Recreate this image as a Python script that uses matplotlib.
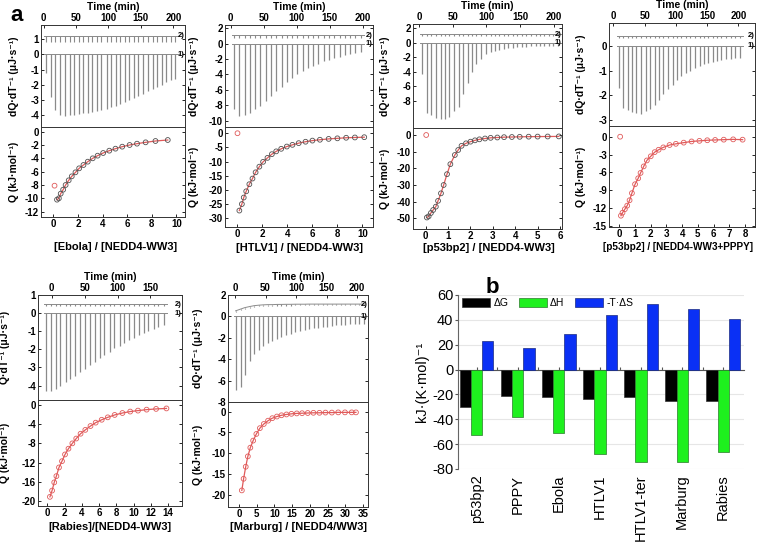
import numpy as np
import matplotlib
matplotlib.use('Agg')
import matplotlib.pyplot as plt
import matplotlib.transforms as mtransforms

plt.rcParams['font.family'] = ['Liberation Sans', 'DejaVu Sans']
plt.rcParams['axes.unicode_minus'] = False

W, H = 758, 545

# ---------------- panel a : ITC data ----------------
# Ebola
ebo_t = [4, 11, 18, 25, 33, 40, 47, 54, 61, 68, 75, 82, 89, 97, 104, 111, 118,
         125, 132, 139, 146, 153, 161, 168, 175, 182, 189, 196, 203]
ebo_peak = [-1.2, -2.8, -3.7, -4.0, -4.05, -4.0, -4.0, -3.95, -3.9, -3.85, -3.8,
            -3.75, -3.65, -3.6, -3.5, -3.4, -3.3, -3.15, -3.0, -2.9, -2.75, -2.6,
            -2.45, -2.3, -2.15, -2.0, -1.85, -1.7, -1.6]
ebo_ref, ebo_ref_dip = 1.25, 0.45
ebo_ratio = [0.1, 0.3, 0.45, 0.6, 0.8, 1.0, 1.25, 1.5, 1.8, 2.1, 2.45, 2.8, 3.2,
             3.6, 4.05, 4.55, 5.05, 5.6, 6.2, 6.8, 7.5, 8.3, 9.3]
ebo_q = [-8.1, -10.2, -10.0, -9.3, -8.7, -8.0, -7.3, -6.7, -6.1, -5.5, -5.0, -4.5,
         -4.0, -3.6, -3.2, -2.85, -2.55, -2.25, -2.0, -1.8, -1.6, -1.4, -1.25]

# HTLV1
htl_t = [5, 13, 21, 29, 37, 45, 53, 61, 69, 77, 85, 93, 101, 109, 117, 125, 133,
         141, 149, 157, 165, 173, 181, 189, 197]
htl_peak = [-8.5, -9.4, -9.3, -9.0, -8.5, -8.1, -7.4, -6.8, -6.2, -5.6, -5.0, -4.4,
            -4.0, -3.6, -3.2, -2.9, -2.6, -2.3, -2.1, -1.9, -1.7, -1.5, -1.4,
            -1.25, -1.15]
htl_ref, htl_ref_dip = 1.1, 0.35
htl_ratio = [0.0, 0.15, 0.35, 0.5, 0.7, 0.95, 1.2, 1.45, 1.75, 2.05, 2.4, 2.75,
             3.1, 3.5, 3.95, 4.4, 4.9, 5.45, 6.0, 6.6, 7.3, 8.0, 8.7, 9.4, 10.15]
htl_q = [0.0, -27.3, -25.0, -22.7, -20.5, -18.0, -16.0, -13.8, -11.8, -10.1, -8.7,
         -7.4, -6.4, -5.5, -4.7, -4.1, -3.5, -3.0, -2.6, -2.3, -2.0, -1.8, -1.6,
         -1.5, -1.4]

# p53bp2
p53_t = [5, 12, 18, 25, 32, 38, 45, 52, 59, 65, 72, 79, 85, 92, 99, 106, 112, 119,
         126, 132, 139, 146, 152, 159, 166, 173, 179, 186, 193, 199, 206]
p53_peak = [-4.3, -9.7, -10.0, -10.4, -10.5, -10.5, -10.3, -9.5, -8.9, -7.1, -5.6,
            -4.1, -3.0, -2.2, -1.6, -1.3, -1.1, -0.95, -0.85, -0.75, -0.7, -0.65,
            -0.6, -0.55, -0.5, -0.5, -0.45, -0.45, -0.4, -0.4, -0.4]
p53_ref, p53_ref_dip = 1.2, 0.2
p53_ratio = [0.02, 0.05, 0.13, 0.23, 0.33, 0.45, 0.55, 0.68, 0.8, 0.95, 1.1, 1.3,
             1.45, 1.6, 1.8, 2.0, 2.2, 2.4, 2.65, 2.9, 3.2, 3.5, 3.85, 4.2, 4.6,
             5.0, 5.45, 5.95]
p53_q = [0.0, -49.5, -48.8, -46.8, -45.0, -43.0, -39.5, -35.0, -30.0, -23.5, -17.5,
         -12.0, -9.0, -6.5, -5.0, -4.0, -3.2, -2.6, -2.1, -1.7, -1.5, -1.3, -1.2,
         -1.1, -1.0, -0.95, -0.9, -0.85]

# p53bp2 into NEDD4-WW3 + PPPY
ppy_t = [9, 16, 23, 30, 37, 44, 52, 59, 66, 73, 80, 87, 95, 102, 109, 116, 123,
         130, 138, 145, 152, 159, 166, 173, 181, 188, 195, 202]
ppy_peak = [-1.7, -2.5, -2.6, -2.68, -2.73, -2.75, -2.66, -2.57, -2.4, -2.2, -1.96,
            -1.75, -1.58, -1.4, -1.24, -1.1, -1.0, -0.9, -0.81, -0.74, -0.68,
            -0.64, -0.6, -0.57, -0.54, -0.52, -0.5, -0.49]
ppy_ref, ppy_ref_dip = 0.42, 0.08
ppy_ratio = [0.05, 0.1, 0.2, 0.35, 0.5, 0.65, 0.8, 1.0, 1.2, 1.35, 1.55, 1.75, 2.0,
             2.25, 2.5, 2.8, 3.2, 3.6, 4.1, 4.6, 5.1, 5.6, 6.1, 6.65, 7.25, 7.85]
ppy_q = [0.0, -13.3, -12.8, -12.2, -11.6, -10.7, -9.5, -8.0, -7.0, -6.1, -5.0,
         -4.0, -3.3, -2.6, -2.2, -1.8, -1.4, -1.2, -1.0, -0.8, -0.7, -0.6, -0.55,
         -0.5, -0.45, -0.5]

# Rabies
rab_t = [-9, -1, 6, 13, 21, 28, 36, 43, 51, 58, 66, 73, 80, 88, 95, 103, 110, 118,
         125, 133, 140, 147, 155, 162, 170]
rab_peak = [-4.3, -4.3, -4.2, -4.0, -3.8, -3.65, -3.47, -3.27, -3.08, -2.87, -2.68,
            -2.5, -2.3, -2.14, -1.95, -1.8, -1.64, -1.5, -1.35, -1.22, -1.1, -0.99,
            -0.9, -0.79, -0.68]
rab_ref, rab_ref_dip = 0.5, 0.1
rab_ratio = [0.3, 0.55, 0.8, 1.05, 1.35, 1.7, 2.05, 2.45, 2.9, 3.35, 3.85, 4.4, 5.0,
             5.6, 6.3, 7.0, 7.8, 8.7, 9.6, 10.5, 11.5, 12.6, 13.8]
rab_q = [-19.1, -17.8, -16.1, -14.8, -13.0, -11.7, -10.3, -9.1, -8.0, -7.0, -6.0,
         -5.2, -4.4, -3.7, -3.1, -2.6, -2.1, -1.7, -1.4, -1.2, -1.0, -0.85, -0.75]

# Marburg
mar_t = [1, 9, 16, 24, 31, 39, 46, 54, 61, 69, 76, 84, 91, 99, 106, 114, 121,
         129, 136, 144, 151, 159, 166, 174, 181, 189, 196, 204, 211]
mar_peak = [-6.9, -6.6, -5.5, -4.2, -3.5, -3.1, -2.8, -2.5, -2.3, -2.1, -1.9, -1.75,
            -1.6, -1.5, -1.4, -1.3, -1.2, -1.1, -1.05, -1.0, -0.95, -0.9, -0.85,
            -0.8, -0.78, -0.75, -0.72, -0.7, -0.68]
mar_ref = [0.52, 0.68, 0.82, 0.92, 1.0, 1.05, 1.08, 1.1, 1.1, 1.12, 1.12, 1.13,
           1.13, 1.14, 1.14, 1.14, 1.15, 1.15, 1.15, 1.15, 1.15, 1.15, 1.15, 1.15,
           1.15, 1.15, 1.15, 1.15, 1.15]
mar_ref_dip = 0.12
mar_ratio = [0.8, 1.3, 1.9, 2.5, 3.2, 4.0, 4.9, 5.9, 7.0, 8.2, 9.4, 10.7, 12.0,
             13.4, 14.8, 16.3, 17.8, 19.4, 21.0, 22.7, 24.4, 26.2, 28.0, 29.9,
             31.8, 33.0]
mar_q = [-19.0, -16.2, -13.3, -10.8, -8.7, -7.0, -5.4, -4.0, -3.0, -2.2, -1.6,
         -1.2, -0.9, -0.7, -0.55, -0.45, -0.4, -0.35, -0.3, -0.3, -0.25, -0.25,
         -0.2, -0.2, -0.2, -0.2]

# ---------------- panel b : thermodynamics ----------------
peptides = ['p53bp2', 'PPPY', 'Ebola', 'HTLV1', 'HTLV1-ter', 'Marburg', 'Rabies']
dG = [-30, -21, -22, -24, -22, -25, -25]
dH = [-53, -38, -51, -68, -74, -74, -66]
mTdS = [23, 17, 29, 44, 53, 49, 41]

TRACE = '#8a8a8a'
RED = '#e05a5a'
DARK = '#505050'
TICK_FS = 7
LAB_FS = 7.5

fig = plt.figure(figsize=(W / 100, H / 100), dpi=100)


def px_axes(l, t, r, b):
    return fig.add_axes([l / W, 1 - b / H, (r - l) / W, (b - t) / H])


def bold_ticks(ax, size=TICK_FS):
    for lab in ax.get_xticklabels() + ax.get_yticklabels():
        lab.set_fontweight('bold')
        lab.set_fontsize(size)


panels = [
    dict(box=(41, 185, 25, 127, 217), t=ebo_t, peak=ebo_peak, ref=ebo_ref, dip=ebo_ref_dip,
         tlim=(-4, 218), tticks=[0, 50, 100, 150, 200], ylim1=(-4.8, 1.95),
         yticks1=[1, 0, -1, -2, -3, -4], ratio=ebo_ratio, q=ebo_q, xlim2=(-1.0, 10.7),
         xticks2=[0, 2, 4, 6, 8, 10], ylim2=(-12.8, 0.7), yticks2=[0, -2, -4, -6, -8, -10, -12],
         xlabel='[Ebola] / [NEDD4-WW3]', xlab_fs=8, xlab_px=(116, 247),
         ylab1='dQ·dT⁻¹ (μJ·s⁻¹)', ylab_px=19, first_out=True, pcolor=DARK),
    dict(box=(225, 373, 25, 127, 227), t=htl_t, peak=htl_peak, ref=htl_ref, dip=htl_ref_dip,
         tlim=(-8.6, 215.6), tticks=[0, 50, 100, 150, 200], ylim1=(-10.8, 2.4),
         yticks1=[2, 0, -2, -4, -6, -8, -10], ratio=htl_ratio, q=htl_q, xlim2=(-1.0, 10.85),
         xticks2=[0, 2, 4, 6, 8, 10], ylim2=(-33.1, 2.2),
         yticks2=[0, -5, -10, -15, -20, -25, -30],
         xlabel='[HTLV1] / [NEDD4-WW3]', xlab_fs=8, xlab_px=(299, 248),
         ylab1='dQ·dT⁻¹ (μJ·s⁻¹)', ylab_px=199, first_out=True, pcolor=DARK),
    dict(box=(413, 562, 24, 128, 229), t=p53_t, peak=p53_peak, ref=p53_ref, dip=p53_ref_dip,
         tlim=(-8.9, 212), tticks=[0, 50, 100, 150, 200], ylim1=(-11.8, 2.6),
         yticks1=[2, 0, -2, -4, -6, -8], ratio=p53_ratio, q=p53_q, xlim2=(-0.57, 6.09),
         xticks2=[0, 1, 2, 3, 4, 5, 6], ylim2=(-56.4, 4.2),
         yticks2=[0, -10, -20, -30, -40, -50],
         xlabel='[p53bp2] / [NEDD4-WW3]', xlab_fs=8, xlab_px=(489, 248),
         ylab1='dQ·dT⁻¹ (μJ·s⁻¹)', ylab_px=390, first_out=True, pcolor=DARK),
    dict(box=(609, 755, 23, 126, 227), t=ppy_t, peak=ppy_peak, ref=ppy_ref, dip=ppy_ref_dip,
         tlim=(-6.9, 226.7), tticks=[0, 50, 100, 150, 200], ylim1=(-3.25, 0.93),
         yticks1=[0, -1, -2, -3], ratio=ppy_ratio, q=ppy_q, xlim2=(-0.66, 8.64),
         xticks2=[0, 1, 2, 3, 4, 5, 6, 7, 8], ylim2=(-15.2, 1.8),
         yticks2=[0, -3, -6, -9, -12, -15],
         xlabel='[p53bp2] / [NEDD4-WW3+PPPY]', xlab_fs=7.2, xlab_px=(678, 247),
         ylab1='dQ·dT⁻¹ (μJ·s⁻¹)', ylab_px=586, first_out=True, pcolor=RED),
    dict(box=(38, 182, 295, 400, 506), t=rab_t, peak=rab_peak, ref=rab_ref, dip=rab_ref_dip,
         tlim=(-21, 198), tticks=[0, 50, 100, 150], ylim1=(-4.8, 1.0),
         yticks1=[1, 0, -1, -2, -3, -4], ratio=rab_ratio, q=rab_q, xlim2=(-1.08, 15.6),
         xticks2=[0, 2, 4, 6, 8, 10, 12, 14], ylim2=(-21, 1),
         yticks2=[0, -4, -8, -12, -16, -20],
         xlabel='[Rabies]/[NEDD4-WW3]', xlab_fs=8, xlab_px=(110, 527),
         ylab1='Q·dT⁻¹ (μJ·s⁻¹)', ylab_px=10, first_out=False, pcolor=RED),
    dict(box=(228, 368, 295, 402, 507), t=mar_t, peak=mar_peak, ref=mar_ref, dip=mar_ref_dip,
         tlim=(-11.5, 218), tticks=[0, 50, 100, 150, 200], ylim1=(-8, 2),
         yticks1=[2, 0, -2, -4, -6, -8], ratio=mar_ratio, q=mar_q, xlim2=(-3.1, 36.4),
         xticks2=[0, 5, 10, 15, 20, 25, 30, 35], ylim2=(-23, 2.3),
         yticks2=[0, -5, -10, -15, -20],
         xlabel='[Marburg] / [NEDD4/WW3]', xlab_fs=8, xlab_px=(298, 527),
         ylab1='dQ·dT⁻¹ (μJ·s⁻¹)', ylab_px=203, first_out=False, pcolor=RED),
]


def draw_itc(p):
    l, r, t, m, b = p['box']
    ax1 = px_axes(l, t, r, m)
    ax2 = px_axes(l, m, r, b)
    tt = np.asarray(p['t'], dtype=float)
    peak = np.asarray(p['peak'], dtype=float)
    ref = np.asarray(p['ref'], dtype=float)

    # thermogram: sample (1) and reference (2)
    ax1.plot([tt[0] - 3, tt[-1] + 5], [0, 0], color=TRACE, lw=0.7)
    ax1.vlines(tt, peak, 0, color=TRACE, lw=0.9)
    if ref.ndim == 0:
        ax1.plot([tt[0] - 3, tt[-1] + 5], [ref, ref], color=TRACE, lw=0.7)
        ax1.vlines(tt, ref - p['dip'], ref, color=TRACE, lw=0.8)
        ref_end = float(ref)
    else:
        ax1.plot(tt, ref, color=TRACE, lw=0.7)
        ax1.vlines(tt, ref - p['dip'], ref, color=TRACE, lw=0.8)
        ref_end = float(ref[-1])
    tr = mtransforms.blended_transform_factory(ax1.transAxes, ax1.transData)
    ax1.text(0.995, ref_end, '2)', transform=tr, ha='right', va='center',
             fontsize=5.5, fontweight='bold')
    ax1.text(0.995, 0, '1)', transform=tr, ha='right', va='center',
             fontsize=5.5, fontweight='bold')
    ax1.set_xlim(*p['tlim'])
    ax1.set_ylim(*p['ylim1'])
    ax1.set_xticks(p['tticks'])
    ax1.set_yticks(p['yticks1'])
    ax1.xaxis.tick_top()
    ax1.xaxis.set_label_position('top')
    ax1.set_xlabel('Time (min)', fontsize=7.5, fontweight='bold', labelpad=2)
    ax1.tick_params(direction='in', length=2.5, width=0.6, pad=1.5,
                    top=True, bottom=False, left=True, right=True)
    ax1.set_ylabel(p['ylab1'], fontsize=LAB_FS, fontweight='bold')
    ax1.yaxis.set_label_coords((p['ylab_px'] - l) / (r - l), 0.5)

    # binding isotherm
    x = np.asarray(p['ratio'], dtype=float)
    q = np.asarray(p['q'], dtype=float)
    if p['first_out']:
        ax2.scatter(x[:1], q[:1], s=12, facecolors='none', edgecolors=RED, lw=0.6, zorder=3)
        x, q = x[1:], q[1:]
    ax2.plot(x, q, color=RED, lw=0.9, zorder=2)
    ax2.scatter(x, q, s=12, facecolors='none', edgecolors=p['pcolor'], lw=0.6, zorder=3)
    ax2.set_xlim(*p['xlim2'])
    ax2.set_ylim(*p['ylim2'])
    ax2.set_xticks(p['xticks2'])
    ax2.set_yticks(p['yticks2'])
    ax2.tick_params(direction='in', length=2.5, width=0.6, pad=1.5,
                    top=False, bottom=True, left=True, right=True)
    ax2.set_xlabel(p['xlabel'], fontsize=p['xlab_fs'], fontweight='bold')
    lx, ly = p['xlab_px']
    ax2.xaxis.set_label_coords((lx - l) / (r - l), (b - ly) / (b - m))
    ax2.xaxis.label.set_verticalalignment('center')
    ax2.set_ylabel('Q (kJ·mol⁻¹)', fontsize=LAB_FS, fontweight='bold')
    ax2.yaxis.set_label_coords((p['ylab_px'] - l) / (r - l), 0.5)

    for ax in (ax1, ax2):
        for s in ax.spines.values():
            s.set_linewidth(0.7)
            s.set_color('#333333')
        bold_ticks(ax)


for p in panels:
    draw_itc(p)

# ---------------- panel b ----------------
axb = px_axes(458, 295, 744, 469)
xc = np.arange(len(peptides))
bw = 0.27
axb.bar(xc - bw, dG, bw, color='black', edgecolor='#333333', lw=0.5, label='ΔG', zorder=3)
axb.bar(xc, dH, bw, color='#1ef01e', edgecolor='#2a7a2a', lw=0.5, label='ΔH', zorder=3)
axb.bar(xc + bw, mTdS, bw, color='#0a30f5', edgecolor='#1a2a80', lw=0.5, label='-T·ΔS', zorder=3)
axb.set_xlim(-0.46, 6.51)
axb.set_ylim(-80, 60)
axb.set_yticks(np.arange(-80, 61, 20))
axb.grid(axis='y', color='#e6e6e6', lw=0.8, zorder=0)
for s in ('top', 'right'):
    axb.spines[s].set_visible(False)
axb.spines['left'].set_color('#666666')
axb.spines['left'].set_linewidth(0.8)
axb.spines['bottom'].set_position(('data', 0))
axb.spines['bottom'].set_color('#555555')
axb.spines['bottom'].set_linewidth(0.8)
axb.set_xticks(np.concatenate([xc, xc[:-1] + 0.5]))
axb.tick_params(axis='x', direction='in', length=2.5, labelbottom=False, colors='#555555')
axb.tick_params(axis='y', direction='out', length=2.5, labelsize=10.5, colors='#555555',
                labelcolor='black', pad=1)
secax = axb.secondary_xaxis('bottom')
secax.set_xticks(xc, peptides, rotation=90, fontsize=10.5)
secax.tick_params(length=0, pad=4)
secax.spines['bottom'].set_visible(False)
axb.set_ylabel('kJ·(K·mol)⁻¹', fontsize=10.5, labelpad=2)
axb.legend(loc='center left', bbox_to_anchor=(0.015, 0.954), ncol=3, frameon=False,
           fontsize=7.5, handlelength=2.7, handleheight=1.0, handletextpad=0.3,
           columnspacing=1.0, borderpad=0, borderaxespad=0)

fig.text(10 / W, 1 - 21 / H, 'a', fontsize=16, fontweight='bold')
fig.text(486 / W, 1 - 293 / H, 'b', fontsize=16, fontweight='bold')

fig.savefig('out.png', dpi=100)
